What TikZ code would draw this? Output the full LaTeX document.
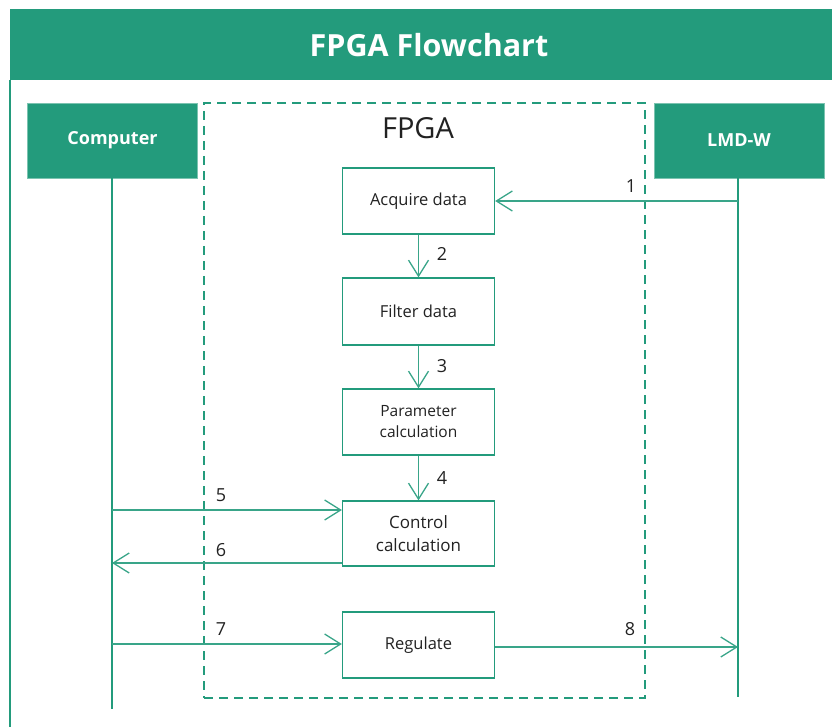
\documentclass[tikz,border=0pt]{standalone}
\usepackage{fontspec}
\setmainfont{Open Sans}
\usetikzlibrary{arrows.meta}
\definecolor{fgreen}{RGB}{35,155,124}
\definecolor{ftext}{RGB}{34,34,34}
\begin{document}
\begin{tikzpicture}[x=1pt,y=-1pt,
  actor/.style={fill=fgreen,draw=fgreen!60,line width=0.8pt,minimum width=170pt,minimum height=75pt,inner sep=0pt,text=white,font=\fontsize{18}{21}\selectfont\bfseries},
  stepbox/.style={draw=fgreen,line width=1.3pt,fill=white,minimum width=152pt,inner sep=0pt,align=center,text=ftext,font=\fontsize{16.5}{22}\selectfont},
  life/.style={draw=fgreen,line width=1.8pt},
  arr/.style={draw=fgreen!90,line width=1.3pt,-{Straight Barb[length=16pt,width=20pt,line width=1.3pt]}},
  num/.style={text=ftext,font=\fontsize{18}{20}\selectfont,inner sep=0pt},
  fpgabox/.style={draw=fgreen,line width=2.6pt,dash pattern=on 9pt off 6pt,minimum width=441pt,minimum height=595pt,inner sep=0pt}
]
\useasboundingbox (0,0) rectangle (832,727);
% outer frame
\fill[fgreen] (10,9) rectangle (832,80);
\draw[fgreen, line width=1.6pt] (10,80) -- (10,727);
\node[text=white,font=\fontsize{30.5}{34}\selectfont\bfseries,inner sep=0pt] (title) at (429,45) {FPGA Flowchart};

% FPGA dashed box
\node[fpgabox] (fpga) at (424.5,400.5) {};
\node[text=ftext,font=\fontsize{29}{32}\selectfont,inner sep=0pt] (fpgalbl) at (418,128) {FPGA};

% actors
\node[actor] (comp) at (112.5,140.5) {Computer};
\node[actor] (lmd) at (739,140.5) {LMD-W};
\coordinate (compend) at (112,709);
\coordinate (lmdend) at (738,697);
\draw[life] (comp.south -| compend) -- (compend);
\draw[life] (lmd.south -| lmdend) -- (lmdend);

% steps
\node[stepbox,minimum height=66pt] (acq) at (418.5,201) {Acquire data};
\node[stepbox,minimum height=67pt] (filt) at (418.5,311.5) {Filter data};
\node[stepbox,minimum height=66pt,font=\fontsize{15.5}{21}\selectfont] (par) at (418.5,422) {Parameter\\calculation};
\node[stepbox,minimum height=65pt,font=\fontsize{17}{23}\selectfont] (ctl) at (418.5,533.5) {Control\\calculation};
\node[stepbox,minimum height=66pt] (reg) at (418.5,645) {Regulate};

% connectors
\coordinate (c1) at (738,201);
\coordinate (c5) at (112,510);
\coordinate (c6) at (112,563);
\coordinate (c7) at (112,644);
\coordinate (c8) at (738,647);
\draw[arr] (c1) -- (acq.east);
\draw[arr] (acq.south) -- (filt.north);
\draw[arr] (filt.south) -- (par.north);
\draw[arr] (par.south) -- (ctl.north);
\draw[arr] (c5) -- (ctl.west |- c5);
\draw[arr] (ctl.west |- c6) -- (c6);
\draw[arr] (c7) -- (reg.west |- c7);
\draw[arr] (reg.east |- c8) -- (c8);

% numbers
\node[num] (n1) at (631,186) {1};
\node[num] (n2) at (442,254) {2};
\node[num] (n3) at (442,366) {3};
\node[num] (n4) at (442,478) {4};
\node[num] (n5) at (221,495) {5};
\node[num] (n6) at (221,550) {6};
\node[num] (n7) at (221,629) {7};
\node[num] (n8) at (630,629) {8};
\end{tikzpicture}
\end{document}
